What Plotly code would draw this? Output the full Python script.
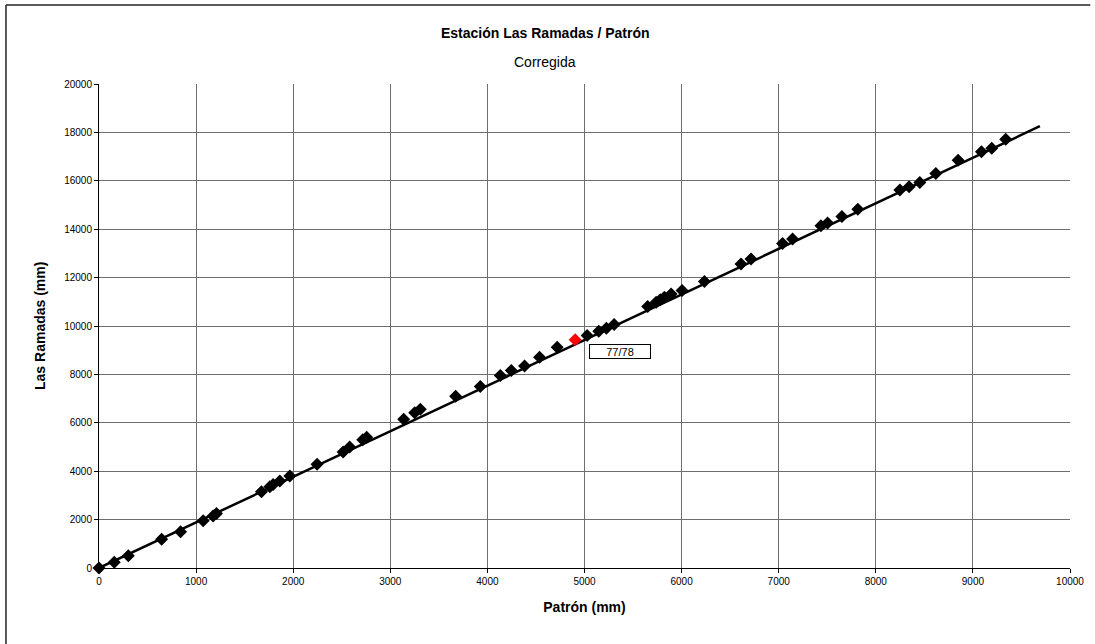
import plotly.graph_objects as go

# Paired rain-gauge readings (mm): reference gauge vs. Las Ramadas station
patron_mm = [0, 157, 302, 645, 840, 1073, 1175, 1210, 1673, 1759, 1793, 1862,
             1965, 2246, 2514, 2582, 2716, 2757, 3138, 3251, 3309, 3673, 3927,
             4133, 4246, 4383, 4537, 4719, 5027, 5147, 5225, 5305, 5651, 5738,
             5780, 5823, 5892, 6005, 6235, 6612, 6715, 7040, 7143, 7435, 7503,
             7651, 7815, 8248, 8343, 8453, 8618, 8848, 9088, 9194, 9338]
ramadas_mm = [0, 235, 507, 1183, 1497, 1950, 2150, 2250, 3146, 3353, 3450, 3600,
              3806, 4288, 4796, 5002, 5300, 5400, 6144, 6420, 6557, 7093, 7505,
              7959, 8165, 8342, 8713, 9126, 9608, 9786, 9910, 10062, 10804, 10983,
              11080, 11189, 11327, 11464, 11835, 12564, 12770, 13414, 13595, 14144,
              14254, 14527, 14820, 15616, 15753, 15930, 16301, 16854, 17196, 17348,
              17720]

# Highlighted season
season_label = "77/78"
season_x = [4904]
season_y = [9430]

# Linear trend through the origin
trend_x = [0, 9690]
trend_y = [0, 18255]

x_ticks = list(range(0, 10001, 1000))
y_ticks = list(range(0, 20001, 2000))

FONT = "Liberation Sans, Arial, sans-serif"

fig = go.Figure()

fig.add_trace(go.Scatter(
    x=trend_x, y=trend_y, mode="lines",
    line=dict(color="black", width=2.5),
    hoverinfo="skip", showlegend=False, cliponaxis=False,
))

fig.add_trace(go.Scatter(
    x=patron_mm, y=ramadas_mm, mode="markers",
    marker=dict(symbol="diamond", size=10, color="black",
                line=dict(width=0)),
    showlegend=False, cliponaxis=False,
))

fig.add_trace(go.Scatter(
    x=season_x, y=season_y, mode="markers",
    marker=dict(symbol="diamond", size=10, color="#ff0000",
                line=dict(width=0)),
    showlegend=False, cliponaxis=False,
))

# Season label box, placed just below-right of the red point
fig.add_annotation(
    x=season_x[0], y=season_y[0], xref="x", yref="y",
    text=season_label, showarrow=False,
    xanchor="left", yanchor="top", xshift=14, yshift=-4,
    width=58, height=11, align="center",
    font=dict(family=FONT, size=11, color="black"),
    bgcolor="white", bordercolor="black", borderwidth=1, borderpad=1,
)

# Title lines
fig.add_annotation(
    x=0.4595, y=33, xref="paper", yref="paper", yanchor="middle",
    text="<b>Estación Las Ramadas / Patrón</b>", showarrow=False,
    font=dict(family=FONT, size=14, color="black"),
)
fig.add_annotation(
    x=0.4595, y=62, xref="paper", yref="paper", yanchor="middle",
    text="Corregida", showarrow=False,
    font=dict(family=FONT, size=14, color="black"),
)

# Y-axis title
fig.add_annotation(
    x=-0.0608, y=0.5, xref="paper", yref="paper",
    xanchor="center", yanchor="middle", textangle=-90,
    text="<b>Las Ramadas (mm)</b>", showarrow=False,
    font=dict(family=FONT, size=14, color="black"),
)

fig.update_xaxes(
    range=[0, 10000], tickvals=x_ticks, ticktext=[str(v) for v in x_ticks],
    showgrid=True, gridcolor="#6e6e6e", gridwidth=1,
    showline=True, linecolor="black", linewidth=1,
    ticks="outside", ticklen=4, tickcolor="black",
    tickfont=dict(family=FONT, size=10, color="black"),
    zeroline=False,
    title=dict(text="<b>Patrón (mm)</b>", standoff=16,
               font=dict(family=FONT, size=14, color="black")),
)
fig.update_yaxes(
    range=[0, 20000], tickvals=y_ticks, ticktext=[str(v) for v in y_ticks],
    showgrid=True, gridcolor="#6e6e6e", gridwidth=1,
    showline=True, linecolor="black", linewidth=1,
    ticks="outside", ticklen=4, tickcolor="black",
    tickfont=dict(family=FONT, size=10, color="black"),
    zeroline=False,
)

# Outer chart frame (left and top edges)
fig.add_shape(type="line", xref="paper", yref="paper",
              x0=-0.0958, x1=-0.0958, y0=-0.2, y1=1.1633,
              line=dict(color="#222222", width=1.5))
fig.add_shape(type="line", xref="paper", yref="paper",
              x0=-0.0958, x1=1.0209, y0=1.1633, y1=1.1633,
              line=dict(color="#222222", width=1.5))

fig.update_layout(
    width=1095, height=644,
    margin=dict(l=99, r=25, t=84, b=76),
    paper_bgcolor="white", plot_bgcolor="white",
    font=dict(family=FONT),
    showlegend=False,
)

# Convert the title pixel rows into paper coordinates
plot_h = 644 - 84 - 76
for ann in fig.layout.annotations:
    if ann.text in ("<b>Estación Las Ramadas / Patrón</b>", "Corregida"):
        ann.y = 1 + (84 - ann.y) / plot_h

fig.write_html("out.html")
